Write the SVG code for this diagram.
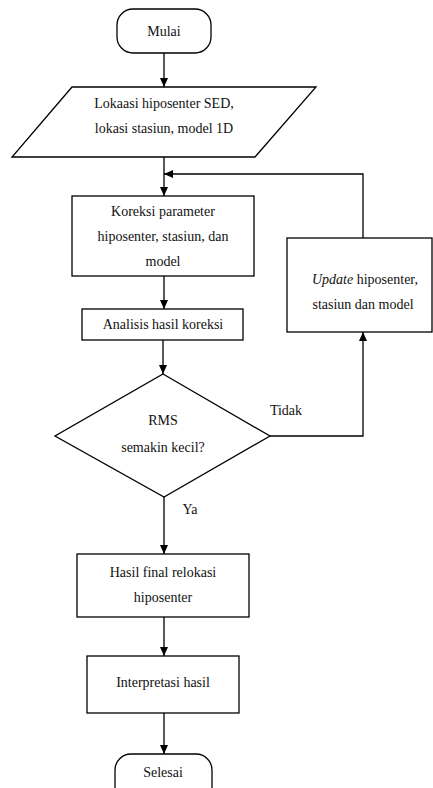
<svg xmlns="http://www.w3.org/2000/svg" width="433" height="788" viewBox="0 0 433 788">
<defs>
<marker id="arr" markerWidth="9" markerHeight="8" refX="9" refY="4" orient="auto" markerUnits="userSpaceOnUse">
<path d="M0,0 L9,4 L0,8 z" fill="#000"/>
</marker>
<style>
.s{fill:#fff;stroke:#000;stroke-width:1.3}
.t{font-family:"Liberation Serif","Times New Roman",serif;font-size:14px;fill:#111;text-anchor:middle}
.c{fill:none;stroke:#000;stroke-width:1.3}
</style>
</defs>
<rect width="433" height="788" fill="#fff"/>
<g id="connectors">
<path class="c" d="M164,53 L164,87" marker-end="url(#arr)"/>
<path class="c" d="M164,157 L164,196" marker-end="url(#arr)"/>
<path class="c" d="M363,238 L363,174 L164,174" marker-end="url(#arr)"/>
<path class="c" d="M164,276 L164,309" marker-end="url(#arr)"/>
<path class="c" d="M163,340 L163,374" marker-end="url(#arr)"/>
<path class="c" d="M270,436 L363,436 L363,332" marker-end="url(#arr)"/>
<path class="c" d="M164,497 L164,554" marker-end="url(#arr)"/>
<path class="c" d="M164,617 L164,656" marker-end="url(#arr)"/>
<path class="c" d="M164,713 L164,754" marker-end="url(#arr)"/>
<text class="t" x="286" y="415">Tidak</text>
<text class="t" x="190" y="514">Ya</text>
</g>
<g id="mulai">
<rect class="s" x="117" y="9" width="94" height="44" rx="16" ry="16"/>
<text class="t" x="164" y="36">Mulai</text>
</g>
<g id="input">
<polygon class="s" points="72,87 316,87 255,157 12,157"/>
<text class="t" x="164" y="108">Lokaasi hiposenter SED,</text>
<text class="t" x="164" y="133">lokasi stasiun, model 1D</text>
</g>
<g id="koreksi">
<rect class="s" x="72" y="196" width="182" height="80"/>
<text class="t" x="163" y="216">Koreksi parameter</text>
<text class="t" x="163" y="241">hiposenter, stasiun, dan</text>
<text class="t" x="163" y="266">model</text>
</g>
<g id="analisis">
<rect class="s" x="82" y="309" width="161" height="31"/>
<text class="t" x="163" y="329">Analisis hasil koreksi</text>
</g>
<g id="update">
<rect class="s" x="287" y="238" width="145" height="94"/>
<text class="t" x="365" y="284"><tspan font-style="italic">Update</tspan> hiposenter,</text>
<text class="t" x="363" y="309">stasiun dan model</text>
</g>
<g id="rms">
<polygon class="s" points="163,374 270,436 164,497 55,436"/>
<text class="t" x="163" y="425">RMS</text>
<text class="t" x="163" y="452">semakin kecil?</text>
</g>
<g id="hasil">
<rect class="s" x="77" y="554" width="172" height="63"/>
<text class="t" x="163" y="577">Hasil final relokasi</text>
<text class="t" x="163" y="602">hiposenter</text>
</g>
<g id="interpretasi">
<rect class="s" x="87" y="656" width="152" height="57"/>
<text class="t" x="163" y="687">Interpretasi hasil</text>
</g>
<g id="selesai">
<rect class="s" x="115" y="754" width="97" height="50" rx="16" ry="16"/>
<text class="t" x="163" y="777">Selesai</text>
</g>
</svg>
